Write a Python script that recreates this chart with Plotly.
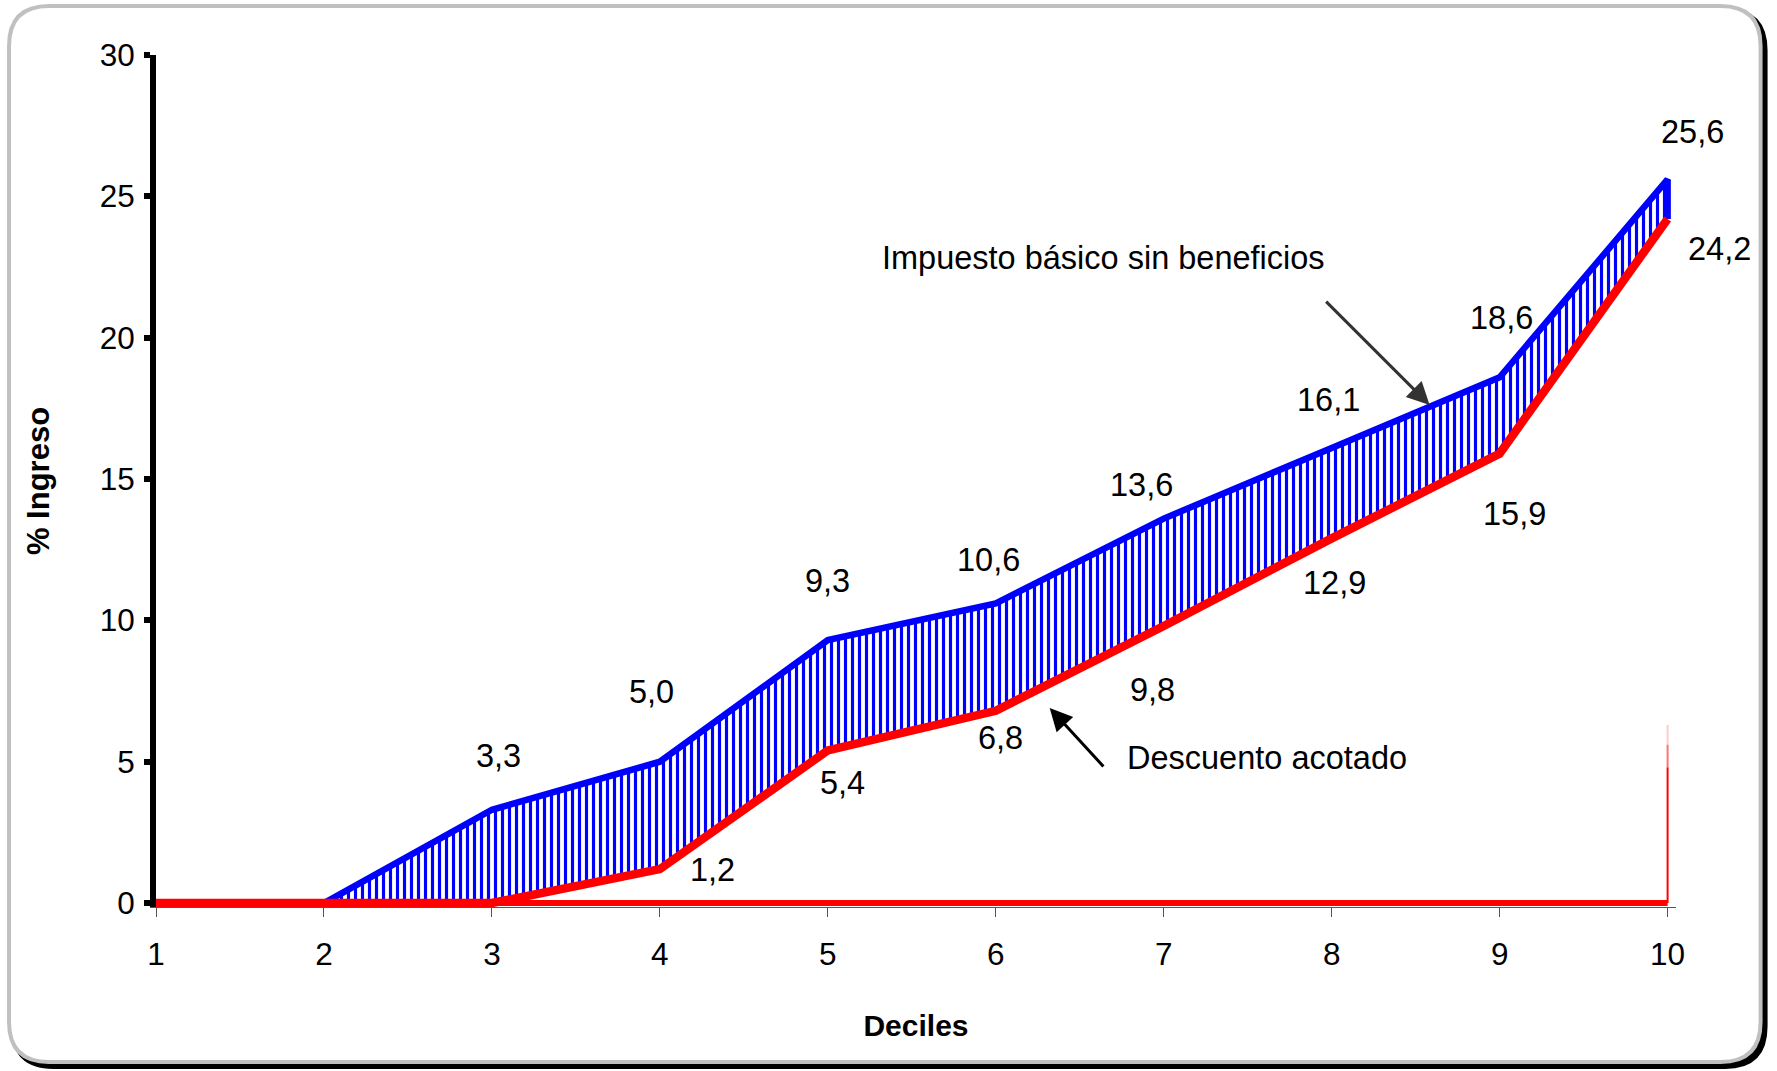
import plotly.graph_objects as go

# Tax burden by income decile (% of income)
deciles = [1, 2, 3, 4, 5, 6, 7, 8, 9, 10]
basic_tax = [0.0, 0.0, 3.3, 5.0, 9.3, 10.6, 13.6, 16.1, 18.6, 25.6]       # Impuesto básico sin beneficios
bounded_discount = [0.0, 0.0, 0.0, 1.2, 5.4, 6.8, 9.8, 12.9, 15.9, 24.2]  # Descuento acotado
y_ticks = [0, 5, 10, 15, 20, 25, 30]

# Pixel offsets (dx right, dy down) of each value label from its point
basic_label_offsets = [None, None, (7, -54), (-8, -70), (0, -59), (-7, -43),
                       (-22, -34), (-3, -48), (2, -59), (25, -47)]
discount_label_offsets = [None, None, None, (53, 1), (15, 33), (5, 27),
                          (-11, 64), (3, 45), (15, 60), (52, 30)]

W, H = 1777, 1071
PLOT_L, PLOT_T = 156, 55
PX_PER_X = 168.0
PX_PER_Y = 28.27
X_RANGE = [1, 10.05]
Y_RANGE = [-0.14, 30]
plot_w = (X_RANGE[1] - X_RANGE[0]) * PX_PER_X
plot_h = (Y_RANGE[1] - Y_RANGE[0]) * PX_PER_Y
PLOT_R = W - PLOT_L - plot_w
PLOT_B = H - PLOT_T - plot_h

FONT = "Liberation Sans, Arial, sans-serif"
BLUE = "#0000ff"
RED = "#ff0000"


def fmt(v):
    return f"{v:.1f}".replace(".", ",")


def to_paper(px, py):
    return (px - PLOT_L) / plot_w, (PLOT_T + plot_h - py) / plot_h


def rounded_rect(left, top, right, bottom, r):
    def p(x, y):
        px, py = to_paper(x, y)
        return f"{px:.5f},{py:.5f}"

    return " ".join([
        f"M{p(left + r, top)}",
        f"L{p(right - r, top)}",
        f"Q{p(right, top)} {p(right, top + r)}",
        f"L{p(right, bottom - r)}",
        f"Q{p(right, bottom)} {p(right - r, bottom)}",
        f"L{p(left + r, bottom)}",
        f"Q{p(left, bottom)} {p(left, bottom - r)}",
        f"L{p(left, top + r)}",
        f"Q{p(left, top)} {p(left + r, top)}",
        "Z",
    ])


fig = go.Figure()

# Hatched band between the two schedules
band_x = deciles[1:] + deciles[1:][::-1]
band_y = basic_tax[1:] + bounded_discount[1:][::-1]
fig.add_trace(go.Scatter(
    x=band_x, y=band_y, mode="lines", fill="toself",
    fillcolor="rgba(0,0,0,0)",
    fillpattern=dict(shape="|", size=7, solidity=0.45, fgcolor=BLUE,
                     bgcolor="white", fillmode="replace"),
    line=dict(width=0), hoverinfo="skip", showlegend=False,
))

# Basic tax outline, closing down to the discount curve at the last decile
fig.add_trace(go.Scatter(
    x=deciles[1:] + [deciles[-1]], y=basic_tax[1:] + [bounded_discount[-1]],
    mode="lines", line=dict(color=BLUE, width=6.5), showlegend=False,
))

# Discount area outline: baseline, faded right edge, and upper curve
fig.add_trace(go.Scatter(
    x=deciles, y=[0] * len(deciles), mode="lines",
    line=dict(color=RED, width=6), showlegend=False,
))
for y0, y1, op in [(0, 4.8, 1.0), (4.8, 5.6, 0.55), (5.6, 6.3, 0.2)]:
    fig.add_trace(go.Scatter(
        x=[deciles[-1], deciles[-1]], y=[y0, y1], mode="lines", opacity=op,
        line=dict(color=RED, width=2), showlegend=False,
    ))
fig.add_trace(go.Scatter(
    x=deciles, y=bounded_discount, mode="lines",
    line=dict(color=RED, width=8.5), showlegend=False,
))

annotations = []
label_font = dict(family=FONT, size=32.5, color="black")
for d, v, off in zip(deciles, basic_tax, basic_label_offsets):
    if off is None:
        continue
    annotations.append(dict(x=d, y=v, text=fmt(v), showarrow=False,
                            xshift=off[0], yshift=-off[1], font=label_font))
for d, v, off in zip(deciles, bounded_discount, discount_label_offsets):
    if off is None:
        continue
    annotations.append(dict(x=d, y=v, text=fmt(v), showarrow=False,
                            xshift=off[0], yshift=-off[1], font=label_font))

# Series call-outs with arrows
annotations += [
    dict(x=6.643, y=22.82, text="Impuesto básico sin beneficios", showarrow=False,
         font=label_font),
    dict(x=8.583, y=17.62, ax=7.958, ay=21.33, axref="x", ayref="y", text="",
         showarrow=True, arrowhead=2, arrowsize=1.5, arrowwidth=3,
         arrowcolor="#333333", standoff=0, startstandoff=0),
    dict(x=7.613, y=5.13, text="Descuento acotado", showarrow=False,
         font=label_font),
    dict(x=6.321, y=6.90, ax=6.649, ay=4.78, axref="x", ayref="y", text="",
         showarrow=True, arrowhead=2, arrowsize=1.5, arrowwidth=3,
         arrowcolor="black", standoff=0, startstandoff=0),
]

# Rounded frame with a dark drop shadow
shapes = [
    dict(type="path", xref="paper", yref="paper", layer="below",
         path=rounded_rect(13.5, 10.5, 1765.5, 1066.5, 40),
         line=dict(color="black", width=5), fillcolor="black"),
    dict(type="path", xref="paper", yref="paper", layer="below",
         path=rounded_rect(9, 6, 1761, 1062, 40),
         line=dict(color="#c0c0c0", width=4), fillcolor="white"),
]

fig.update_layout(
    width=W, height=H, autosize=False,
    margin=dict(l=PLOT_L, r=PLOT_R, t=PLOT_T, b=PLOT_B, pad=0),
    paper_bgcolor="white", plot_bgcolor="rgba(0,0,0,0)",
    font=dict(family=FONT, size=31, color="black"),
    annotations=annotations, shapes=shapes, showlegend=False,
    xaxis=dict(
        range=X_RANGE, tickmode="array", tickvals=deciles,
        ticktext=[str(d) for d in deciles],
        showgrid=False, zeroline=False, showline=True,
        linecolor="#555555", linewidth=1,
        ticks="outside", ticklen=9, tickwidth=1, tickcolor="#555555",
        ticklabelstandoff=10,
        tickfont=dict(family=FONT, size=31.5, color="black"),
        title=dict(text="<b>Deciles</b>", standoff=44,
                   font=dict(family=FONT, size=30, color="black")),
    ),
    yaxis=dict(
        range=Y_RANGE, tickmode="array", tickvals=y_ticks,
        ticktext=[str(t) for t in y_ticks],
        showgrid=False, zeroline=False, showline=True,
        linecolor="black", linewidth=6,
        ticks="outside", ticklen=6, tickwidth=6, tickcolor="black",
        ticklabelstandoff=3,
        tickfont=dict(family=FONT, size=31.5, color="black"),
        title=dict(text="<b>% Ingreso</b>", standoff=43,
                   font=dict(family=FONT, size=31, color="black")),
    ),
)

fig.write_html("out.html")
